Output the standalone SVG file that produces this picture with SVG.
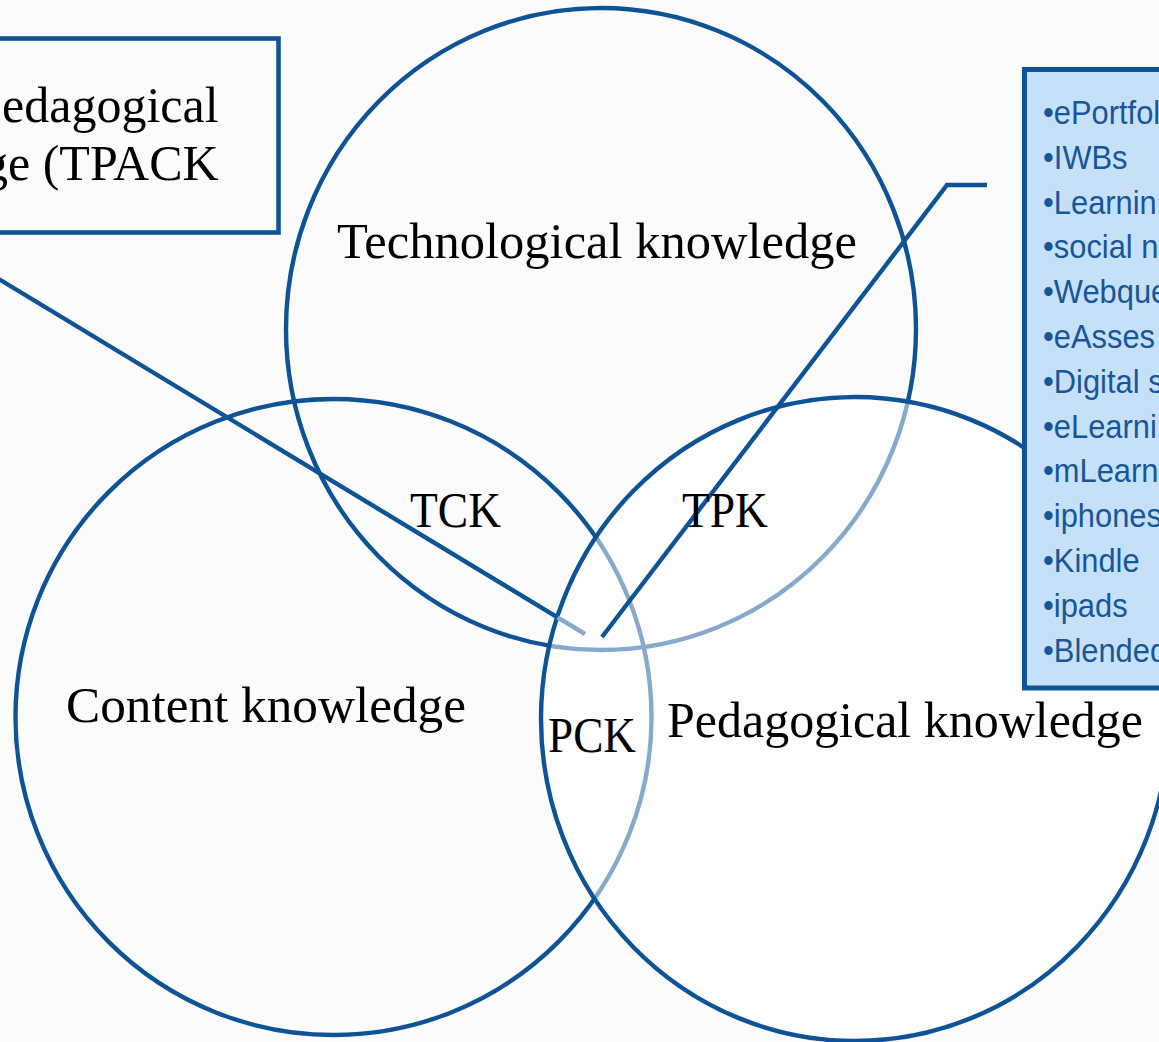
<svg xmlns="http://www.w3.org/2000/svg" width="1159" height="1042" viewBox="0 0 1159 1042">
  <style>
    .ring { fill: none; stroke: #0E5396; stroke-width: 4.4; }
    .serif { font-family: "Liberation Serif", "Times New Roman", serif; font-size: 50px; fill: #000; }
    .list { font-family: "Liberation Sans", Arial, sans-serif; font-size: 32.5px; fill: #17569A; }
    .conn { fill: none; stroke: #0E5396; stroke-width: 4.4; }
    .conn-light { fill: none; stroke: #87A8C9; stroke-width: 4.4; }
  </style>
  <rect x="0" y="0" width="1159" height="1042" fill="#FBFBFB"/>

  <g id="technological-knowledge">
    <ellipse class="ring" cx="601" cy="329" rx="315" ry="321"/>
    <text class="serif" x="337" y="258" textLength="520" lengthAdjust="spacingAndGlyphs">Technological knowledge</text>
  </g>

  <g id="content-knowledge">
    <circle class="ring" cx="333.5" cy="717" r="318"/>
    <text class="serif" x="66" y="722" textLength="400" lengthAdjust="spacingAndGlyphs">Content knowledge</text>
  </g>

  <g id="tck">
    <text class="serif" x="410" y="527" textLength="91" lengthAdjust="spacingAndGlyphs">TCK</text>
  </g>

  <g id="pedagogical-knowledge">
    <ellipse cx="855" cy="719" rx="314" ry="322" fill="#FFFFFF" fill-opacity="0.5" stroke="#0E5396" stroke-width="4.4"/>
    <text class="serif" x="667" y="737" textLength="476" lengthAdjust="spacingAndGlyphs">Pedagogical knowledge</text>
  </g>

  <g id="connectors">
    <line class="conn" x1="-10" y1="273.7" x2="557.5" y2="617.4"/>
    <line class="conn-light" x1="557.5" y1="617.4" x2="585" y2="634"/>
    <polyline class="conn" points="987,185 947,185 602,637"/>
  </g>

  <g id="tpk">
    <text class="serif" x="682" y="527" textLength="86" lengthAdjust="spacingAndGlyphs">TPK</text>
  </g>

  <g id="pck">
    <text class="serif" x="548" y="752" textLength="88" lengthAdjust="spacingAndGlyphs">PCK</text>
  </g>

  <g id="tpack-box">
    <rect x="-20" y="38.5" width="298.5" height="194" fill="#FBFBFB" stroke="#0E5396" stroke-width="4.6"/>
    <text class="serif" x="2" y="122">edagogical</text>
    <text class="serif" x="-17" y="180">ge (TPACK</text>
  </g>

  <g id="tools-box">
    <rect x="1024.5" y="69.5" width="160" height="618.5" fill="#C6E0F7" stroke="#0E5396" stroke-width="5"/>
    <g transform="translate(1043 0) scale(0.95 1)">
      <text class="list" x="0" y="124">•ePortfol</text>
      <text class="list" x="0" y="168.8">•IWBs</text>
      <text class="list" x="0" y="213.6">•Learnin</text>
      <text class="list" x="0" y="258.4">•social n</text>
      <text class="list" x="0" y="303.2">•Webque</text>
      <text class="list" x="0" y="348">•eAsses</text>
      <text class="list" x="0" y="392.8">•Digital s</text>
      <text class="list" x="0" y="437.6">•eLearni</text>
      <text class="list" x="0" y="482.4">•mLearn</text>
      <text class="list" x="0" y="527.2">•iphones</text>
      <text class="list" x="0" y="572">•Kindle</text>
      <text class="list" x="0" y="616.8">•ipads</text>
      <text class="list" x="0" y="661.6">•Blended</text>
    </g>
  </g>
</svg>
